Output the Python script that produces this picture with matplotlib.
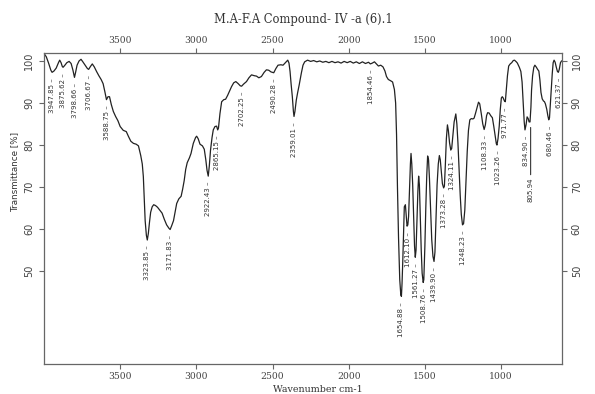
import numpy as np
import matplotlib
matplotlib.use('Agg')
import matplotlib.pyplot as plt

# ---- spectrum ----
wavenumber = [
    4000, 3985, 3970, 3955, 3947, 3935, 3920, 3905, 3897, 3888, 3880, 3875, 3865, 3850, 3835, 3822,
    3810, 3800, 3792, 3783, 3770, 3757, 3745, 3730, 3715, 3707, 3695, 3683, 3670, 3655, 3640, 3625,
    3612, 3600, 3590, 3580, 3570, 3558, 3545, 3530, 3515, 3500, 3480, 3460, 3445, 3430, 3413, 3395,
    3380, 3365, 3355, 3348, 3342, 3336, 3328, 3322, 3315, 3308, 3300, 3290, 3280, 3268, 3255, 3240,
    3225, 3210, 3195, 3180, 3172, 3162, 3150, 3140, 3129, 3115, 3100, 3090, 3080, 3070, 3060, 3045,
    3035, 3020, 3005, 2998, 2988, 2976, 2960, 2948, 2938, 2930, 2922, 2915, 2907, 2897, 2889, 2878,
    2867, 2860, 2855, 2845, 2834, 2820, 2808, 2795, 2780, 2769, 2755, 2741, 2725, 2712, 2703, 2690,
    2671, 2655, 2638, 2620, 2605, 2590, 2573, 2555, 2540, 2525, 2510, 2492, 2478, 2464, 2445, 2431,
    2415, 2400, 2392, 2385, 2378, 2370, 2363, 2359, 2353, 2344, 2335, 2325, 2311, 2300, 2289, 2270,
    2250, 2230, 2210, 2190, 2170, 2150, 2130, 2110, 2090, 2070, 2050, 2030, 2010, 1990, 1970, 1950,
    1930, 1910, 1890, 1870, 1858, 1845, 1831, 1818, 1805, 1790, 1775, 1762, 1752, 1740, 1725, 1712,
    1700, 1692, 1686, 1680, 1673, 1665, 1658, 1654, 1650, 1645, 1640, 1635, 1628, 1622, 1617, 1612,
    1607, 1600, 1595, 1591, 1586, 1580, 1574, 1568, 1563, 1558, 1552, 1546, 1541, 1536, 1530, 1524,
    1518, 1511, 1507, 1500, 1494, 1488, 1482, 1476, 1470, 1462, 1455, 1447, 1440, 1434, 1427, 1420,
    1412, 1405, 1399, 1392, 1385, 1377, 1372, 1366, 1359, 1352, 1346, 1338, 1330, 1324, 1316, 1308,
    1297, 1290, 1283, 1275, 1268, 1261, 1253, 1246, 1238, 1230, 1222, 1214, 1205, 1195, 1185, 1177,
    1168, 1157, 1148, 1140, 1130, 1120, 1111, 1103, 1095, 1088, 1078, 1068, 1057, 1048, 1040, 1031,
    1027, 1020, 1012, 1005, 998, 992, 986, 978, 972, 965, 958, 950, 940, 930, 920, 912,
    900, 893, 880, 870, 862, 855, 848, 843, 836, 829, 822, 816, 810, 804, 800, 793,
    785, 778, 768, 760, 752, 745, 738, 730, 722, 715, 709, 700, 693, 687, 682, 676,
    670, 664, 658, 652, 645, 638, 630, 624, 618, 610, 603,
]
transmittance = [
    101.8, 101.0, 99.5, 97.8, 97.3, 97.6, 98.3, 99.6, 100.2, 99.6, 98.7, 98.5, 98.9, 99.6, 99.9, 99.4,
    97.8, 96.1, 97.4, 99.0, 100.0, 100.4, 99.8, 99.0, 98.2, 98.0, 98.7, 99.3, 98.6, 97.5, 96.5, 95.6,
    94.6, 92.6, 90.8, 91.5, 91.5, 89.6, 88.0, 86.8, 85.8, 84.4, 83.5, 83.2, 82.0, 80.9, 80.4, 80.2,
    79.8, 77.5, 75.5, 72.5, 67.5, 62.0, 58.5, 57.4, 59.0, 61.5, 64.0, 65.3, 65.8, 65.6, 65.2, 64.5,
    63.8, 62.3, 61.0, 60.2, 59.9, 60.8, 62.0, 64.0, 66.1, 67.2, 67.8, 69.5, 71.5, 74.2, 75.8, 77.0,
    78.0, 80.4, 81.8, 82.1, 81.5, 80.2, 79.8, 79.0, 76.5, 74.0, 72.6, 75.0, 78.8, 81.8, 83.6, 84.4,
    84.5, 83.6, 84.0, 87.5, 90.3, 90.8, 90.9, 91.8, 93.0, 93.9, 94.8, 95.1, 94.6, 94.1, 94.0, 94.5,
    95.1, 96.0, 96.7, 96.5, 96.4, 96.0, 96.3, 97.3, 97.9, 97.8, 97.4, 97.2, 98.2, 99.0, 99.1, 99.0,
    99.6, 100.2, 99.5, 97.5, 94.5, 91.5, 88.0, 86.8, 88.0, 90.7, 92.5, 94.3, 97.1, 99.0, 99.8, 100.2,
    99.9, 100.1, 99.8, 100.0, 99.7, 99.9, 99.6, 99.9, 99.6, 99.8, 99.5, 99.9, 99.6, 99.9, 99.5, 99.8,
    99.4, 99.8, 99.4, 99.7, 99.3, 99.5, 99.8, 99.3, 98.8, 99.0, 98.6, 97.6, 96.3, 95.6, 95.3, 95.0,
    93.2, 90.0, 82.5, 70.0, 58.0, 48.0, 44.3, 44.0, 47.0, 52.5, 59.0, 65.3, 65.8, 63.0, 60.7, 61.0,
    63.0, 70.0, 75.5, 78.0, 75.5, 70.5, 63.0, 56.0, 53.3, 55.0, 62.0, 69.0, 72.6, 70.5, 63.0, 55.0,
    49.5, 47.3, 48.0, 56.0, 65.0, 72.5, 77.4, 76.5, 72.0, 64.5, 57.5, 53.5, 52.3, 54.5, 62.5, 70.5,
    75.5, 77.5, 76.5, 73.5, 70.8, 69.8, 70.2, 75.0, 81.5, 84.8, 83.5, 80.5, 78.8, 79.2, 82.5, 85.5,
    87.4, 85.0, 80.5, 74.0, 68.0, 63.5, 61.0, 61.3, 64.5, 71.5, 78.5, 83.5, 86.0, 86.3, 86.2, 86.4,
    87.5, 89.0, 90.2, 89.8, 87.5, 85.0, 83.7, 84.8, 87.0, 87.7, 87.6, 87.0, 86.5, 84.5, 82.5, 80.3,
    80.0, 81.5, 84.5, 88.5, 91.2, 91.5, 91.2, 90.5, 90.3, 93.5, 96.5, 98.8, 99.3, 99.6, 100.1, 100.2,
    99.8, 99.5, 98.5, 97.5, 95.0, 90.0, 85.5, 83.6, 84.8, 86.7, 86.3, 85.5, 85.5, 89.0, 93.0, 96.5,
    98.5, 99.0, 98.5, 98.0, 97.6, 95.5, 92.5, 91.0, 90.5, 90.3, 89.8, 88.5, 87.0, 86.0, 86.5, 90.0,
    93.3, 97.0, 99.6, 100.2, 99.7, 98.6, 97.5, 97.3, 98.0, 99.6, 100.0,
]

# ---- peak annotations ----
peak_labels = [
    "3947.85", "3875.62", "3798.66", "3706.67", "3588.75", "3323.85", "3171.83",
    "2922.43", "2865.15", "2702.25", "2490.28", "2359.01", "1854.46", "1654.88",
    "1612.10", "1561.27", "1508.76", "1439.90", "1373.28", "1324.11", "1248.23",
    "1108.33", "1023.26", "971.77", "834.90", "805.94", "680.46", "621.37",
]
long_leader = ["805.94"]

x_ticks = [3500, 3000, 2500, 2000, 1500, 1000]
y_ticks = [50, 60, 70, 80, 90, 100]

title = "M.A-F.A Compound- IV -a (6).1"
x_label = "Wavenumber cm-1"
y_label = "Transmittance [%]"

wn = np.array(wavenumber, dtype=float)
tr = np.array(transmittance, dtype=float)

fig = plt.figure(figsize=(5.95, 3.94), dpi=100)
ax = fig.add_axes([44 / 595, 30 / 394, 518 / 595, 311 / 394])
ax.plot(wn, tr, color='#222222', lw=0.9)
ax.set_xlim(4000, 600)
ax.set_ylim(27.9, 101.9)

ax.set_xticks(x_ticks)
ax.set_yticks(y_ticks)
for s in ax.spines.values():
    s.set_color('#666666')
    s.set_linewidth(0.9)
ax.tick_params(direction='out', length=3.5, width=0.8, color='#666666',
               top=True, right=True, labeltop=True, labelright=True)
ax.tick_params(axis='x', pad=2.5, labelsize=6.7, labelcolor='#444444')
ax.tick_params(axis='y', pad=3.5, labelsize=7.0, labelcolor='#444444', labelrotation=90)
for t in ax.get_xticklabels(which='both'):
    t.set_family('DejaVu Serif')
for tick in ax.xaxis.get_major_ticks():
    tick.label1.set_family('DejaVu Serif')
    tick.label2.set_family('DejaVu Serif')
for tick in ax.yaxis.get_major_ticks():
    tick.label1.set_va('center')
    tick.label2.set_va('center')

lab_font = 'DejaVu Sans'
wn_asc = wn[::-1]
tr_asc = tr[::-1]
for lab in peak_labels:
    pos = float(lab)
    m = (wn >= pos - 9) & (wn <= pos + 9)
    ymin = tr[m].min() if m.any() else np.interp(pos, wn_asc, tr_asc)
    if lab in long_leader:
        ax.annotate(lab, xy=(pos, ymin), xytext=(0, -40), textcoords='offset points',
                    rotation=90, ha='center', va='top', fontsize=5, family=lab_font,
                    color='#333333',
                    arrowprops=dict(arrowstyle='-', lw=0.8, color='#333333',
                                    shrinkA=0, shrinkB=4))
    else:
        ax.annotate(lab + " \u2013", xy=(pos, ymin), xytext=(0, -4), textcoords='offset points',
                    rotation=90, ha='center', va='top', fontsize=5, family=lab_font,
                    color='#333333')

fig.text(303 / 595, 1 - 19 / 394, title, ha='center', va='center',
         family='DejaVu Serif', fontsize=8.3, color='#333333')
fig.text(318 / 595, 1 - 389 / 394, x_label, ha='center', va='center',
         family='DejaVu Serif', fontsize=6.8, color='#333333')
fig.text(15 / 595, 1 - 172 / 394, y_label, ha='center', va='center', rotation=90,
         family='DejaVu Sans', fontsize=6.3, color='#333333')

fig.savefig('out.png', dpi=100)
